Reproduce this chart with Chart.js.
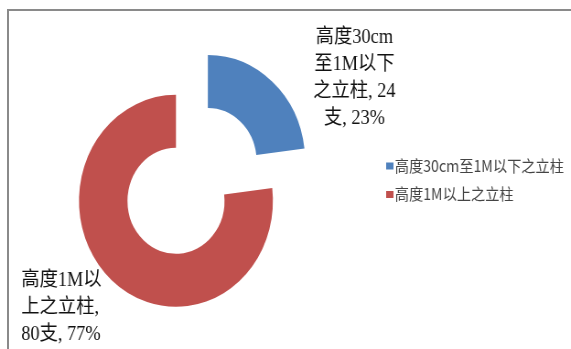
<!DOCTYPE html>
<html>
<head>
<meta charset="utf-8">
<script src="https://cdn.jsdelivr.net/npm/chart.js@4/dist/chart.umd.min.js"></script>
<style>
  html, body { margin: 0; padding: 0; background: #fff; overflow: hidden; }
  #frame {
    position: absolute; left: 7px; top: 9px; width: 600px; height: 400px;
    border-left: 2px solid #8a8a8a; border-top: 2px solid #8a8a8a;
  }
  #wrap {
    position: absolute; left: 0; top: 0; width: 624px; height: 349px;
    transform: scaleX(0.915); transform-origin: 0 0;
  }
</style>
</head>
<body>
<div id="frame"></div>
<div id="wrap"><canvas id="pillars" width="624" height="349"></canvas></div>
<script>
const categories = ['高度30cm至1M以下之立柱', '高度1M以上之立柱'];
const counts = [24, 80];
const colors = ['#4F81BD', '#C0504D'];
const unit = '支';

const total = counts.reduce((a, b) => a + b, 0);

// split label text into CJK chars / latin words, then wrap greedily
function wrapText(ctx, text, maxWidth) {
  const tokens = text.match(/[\u4e00-\u9fff][,，]?|[A-Za-z0-9%.]+,?|\s+/g);
  const lines = [];
  let line = '';
  tokens.forEach(tok => {
    if (/^\s+$/.test(tok) && line === '') return;
    const test = line + tok;
    if (line !== '' && ctx.measureText(test).width > maxWidth) {
      lines.push(line.trim());
      line = /^\s+$/.test(tok) ? '' : tok;
    } else {
      line = test;
    }
  });
  if (line.trim()) lines.push(line.trim());
  return lines;
}

const sliceLabels = {
  id: 'sliceLabels',
  afterDatasetsDraw(chart) {
    const ctx = chart.ctx;
    const meta = chart.getDatasetMeta(0);
    const place = [
      { dx: 195, dy: -163, align: 'center' },
      { dx: -169, dy: 80, align: 'left' }
    ];
    ctx.save();
    ctx.font = '20px "Liberation Serif", "Noto Sans CJK SC", serif';
    ctx.fillStyle = '#111';
    ctx.textBaseline = 'middle';
    meta.data.forEach((arc, i) => {
      const v = counts[i];
      const pct = Math.round(v / total * 100);
      const text = categories[i] + ', ' + v + unit + ', ' + pct + '%';
      const lines = wrapText(ctx, text, 95);
      const p = place[i];
      ctx.textAlign = p.align;
      lines.forEach((ln, k) => {
        ctx.fillText(ln, arc.x + p.dx, arc.y + p.dy + k * 27);
      });
    });
    ctx.restore();
  }
};

const sideLegend = {
  id: 'sideLegend',
  afterDraw(chart) {
    const ctx = chart.ctx;
    ctx.save();
    ctx.font = '15.5px "Noto Sans CJK SC", "Liberation Sans", sans-serif';
    ctx.textBaseline = 'middle';
    ctx.textAlign = 'left';
    chart.data.labels.forEach((label, i) => {
      const y = 166 + i * 28.5;
      ctx.fillStyle = chart.data.datasets[0].backgroundColor[i];
      ctx.fillRect(422, y - 3.5, 8, 7);
      ctx.fillStyle = '#444';
      ctx.fillText(label, 431.5, y);
    });
    ctx.restore();
  }
};

new Chart(document.getElementById('pillars'), {
  type: 'doughnut',
  data: {
    labels: categories,
    datasets: [{
      data: counts,
      backgroundColor: colors,
      borderWidth: 0,
      // arc offset is applied at a quarter of this value
      offset: [210, 0],
      hoverOffset: 0
    }]
  },
  options: {
    responsive: false,
    animation: false,
    events: [],
    radius: 106,
    cutout: '50%',
    layout: { padding: { left: 0, right: 239.4, top: 52.6, bottom: 0 } },
    plugins: {
      legend: { display: false },
      tooltip: { enabled: false }
    }
  },
  plugins: [sliceLabels, sideLegend]
});
</script>
</body>
</html>
